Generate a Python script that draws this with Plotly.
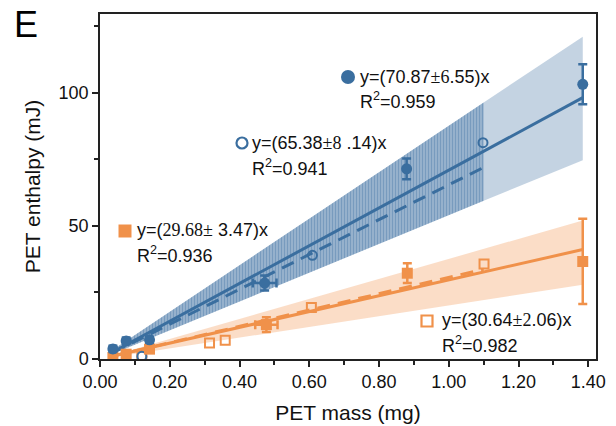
import plotly.graph_objects as go

# ---------------- data ----------------
blue_fill_x = [0.037, 0.075, 0.142, 0.472, 0.879, 1.384]
blue_fill_y = [3.8, 6.8, 7.2, 28.5, 71.4, 103.1]
blue_fill_yerr = [1.2, 1.2, 1.0, 2.8, 3.9, 7.5]
blue_fill_xerr = [0.006, 0.008, 0.008, 0.034, 0.004, 0.004]

blue_open_x = [0.12, 0.609, 1.098]
blue_open_y = [1.0, 38.9, 81.2]

orange_fill_x = [0.037, 0.075, 0.142, 0.477, 0.881, 1.384]
orange_fill_y = [0.6, 1.8, 3.7, 12.9, 32.2, 36.6]
orange_fill_yerr = [0.8, 1.0, 1.0, 2.8, 3.7, 16.0]
orange_fill_xerr = [0.006, 0.008, 0.008, 0.032, 0.004, 0.004]

orange_open_x = [0.12, 0.314, 0.359, 0.606, 1.101]
orange_open_y = [1.2, 6.0, 7.0, 19.3, 35.7]

# fitted slopes (y = k x)
blue_fill_slope = 70.87
blue_open_slope = 65.38
orange_fill_slope = 29.68
orange_open_slope = 30.64
blue_fill_fit_x = [0.037, 1.384]
blue_open_fit_x = [0.037, 1.10]
orange_fill_fit_x = [0.037, 1.384]
orange_open_fit_x = [0.037, 1.10]

# confidence bands
blue_band_x = [0.037, 1.10, 1.384]
blue_band_hi = [3.5, 96.3, 121.0]
blue_band_lo = [2.0, 59.4, 74.6]
blue_open_band_x = [0.037, 1.10]
blue_open_band_hi = [3.5, 96.3]
blue_open_band_lo = [2.0, 59.4]
orange_band_x = [0.037, 1.384]
orange_band_hi = [1.4, 52.0]
orange_band_lo = [0.7, 27.9]

x_ticks = [0.0, 0.2, 0.4, 0.6, 0.8, 1.0, 1.2, 1.4]
x_ticklabels = ["0.00", "0.20", "0.40", "0.60", "0.80", "1.00", "1.20", "1.40"]
y_ticks = [0, 50, 100]
y_ticklabels = ["0", "50", "100"]

# ---------------- style ----------------
BLUE = "#3a6e9f"
ORANGE = "#f0914a"
SANS = "Arial, Liberation Sans, sans-serif"

W, H = 616, 426
ML, MR, MT, MB = 100, 20, 14, 67
PW, PH = W - ML - MR, H - MT - MB


def px(xp):
    return (xp - ML) / PW


def py(yp):
    return (H - MB - yp) / PH


def band(xs, lo, hi):
    return xs + xs[::-1], hi + lo[::-1]


fig = go.Figure()

bx, by = band(orange_band_x, orange_band_lo, orange_band_hi)
fig.add_trace(go.Scatter(x=bx, y=by, fill="toself", mode="none",
                         fillcolor="rgba(244,150,80,0.32)", hoverinfo="skip"))
bx, by = band(blue_band_x, blue_band_lo, blue_band_hi)
fig.add_trace(go.Scatter(x=bx, y=by, fill="toself", mode="none",
                         fillcolor="rgba(58,110,159,0.30)", hoverinfo="skip"))
bx, by = band(blue_open_band_x, blue_open_band_lo, blue_open_band_hi)
fig.add_trace(go.Scatter(x=bx, y=by, fill="toself", mode="none",
                         fillcolor="rgba(58,110,159,0.35)",
                         fillpattern=dict(shape="|", fgcolor="rgba(40,95,150,0.55)",
                                          bgcolor="rgba(58,110,159,0.33)",
                                          size=3, solidity=0.35),
                         hoverinfo="skip"))

# fit lines
for xs, k, color, dash in [
    (orange_fill_fit_x, orange_fill_slope, ORANGE, "solid"),
    (orange_open_fit_x, orange_open_slope, ORANGE, "13px,8px"),
    (blue_fill_fit_x, blue_fill_slope, BLUE, "solid"),
    (blue_open_fit_x, blue_open_slope, BLUE, "13px,8px"),
]:
    fig.add_trace(go.Scatter(x=xs, y=[k * v for v in xs], mode="lines",
                             line=dict(color=color, width=3, dash=dash),
                             hoverinfo="skip"))

# data points
fig.add_trace(go.Scatter(x=orange_open_x, y=orange_open_y, mode="markers",
                         marker=dict(symbol="square-open", size=9, color=ORANGE,
                                     line=dict(width=2, color=ORANGE))))
fig.add_trace(go.Scatter(x=blue_open_x, y=blue_open_y, mode="markers",
                         marker=dict(symbol="circle-open", size=9, color=BLUE,
                                     line=dict(width=2, color=BLUE))))
fig.add_trace(go.Scatter(x=orange_fill_x, y=orange_fill_y, mode="markers",
                         marker=dict(symbol="square", size=11, color=ORANGE),
                         error_y=dict(type="data", array=orange_fill_yerr,
                                      color=ORANGE, thickness=2.5, width=4.5),
                         error_x=dict(type="data", array=orange_fill_xerr,
                                      color=ORANGE, thickness=2.5, width=4.5)))
fig.add_trace(go.Scatter(x=blue_fill_x, y=blue_fill_y, mode="markers",
                         marker=dict(symbol="circle", size=11, color=BLUE),
                         error_y=dict(type="data", array=blue_fill_yerr,
                                      color=BLUE, thickness=2.5, width=4.5),
                         error_x=dict(type="data", array=blue_fill_xerr,
                                      color=BLUE, thickness=2.5, width=4.5)))

axis_common = dict(
    showline=True, linecolor="#222", linewidth=1.5, mirror=True,
    ticks="outside", ticklen=6, tickwidth=1.5, tickcolor="#222",
    showgrid=False, zeroline=False, automargin=False,
    tickfont=dict(family=SANS, size=18, color="#111"),
)

fig.update_layout(
    width=W, height=H,
    margin=dict(l=ML, r=MR, t=MT, b=MB),
    paper_bgcolor="white", plot_bgcolor="white",
    showlegend=False,
    font=dict(family=SANS, color="#111"),
    xaxis=dict(range=[0, 1.422], tickvals=x_ticks, ticktext=x_ticklabels,
               minor=dict(dtick=0.1, tick0=0, ticks="outside", ticklen=4,
                          tickwidth=1.5, tickcolor="#222"),
               title=dict(text="PET mass (mg)", font=dict(family=SANS, size=21),
                          standoff=14),
               **axis_common),
    yaxis=dict(range=[0, 129.5], tickvals=y_ticks, ticktext=y_ticklabels,
               minor=dict(dtick=25, tick0=0, ticks="outside", ticklen=4,
                          tickwidth=1.5, tickcolor="#222"),
               title=dict(text="PET enthalpy (mJ)", font=dict(family=SANS, size=21),
                          standoff=12),
               **axis_common),
)

# panel letter
fig.add_annotation(text="E", xref="paper", yref="paper", x=px(12), y=py(24),
                   xanchor="left", yanchor="middle", showarrow=False,
                   font=dict(family=SANS, size=36, color="#000"))


def s(t):
    return f"<span style='font-family:Liberation Serif'>{t}</span>"


labels = [
    (358, 77, "y=(70.87" + s("±6") + ".55)x", 100, "R<sup>2</sup>=0.959"),
    (250, 143, "y=(65.38" + s("±8") + " .14)x", 167, "R<sup>2</sup>=0.941"),
    (135, 230, "y=(" + s("29.68±") + " 3.47)x", 254, "R<sup>2</sup>=0.936"),
    (440, 320, "y=(30.64" + s("±2") + ".06)x", 344, "R<sup>2</sup>=0.982"),
]
for x0, y1, t1, y2, t2 in labels:
    fig.add_annotation(text=t1, xref="paper", yref="paper", x=px(x0), y=py(y1),
                       xanchor="left", yanchor="middle", showarrow=False,
                       font=dict(family=SANS, size=18, color="#111"))
    fig.add_annotation(text=t2, xref="paper", yref="paper", x=px(x0), y=py(y2),
                       xanchor="left", yanchor="middle", showarrow=False,
                       font=dict(family=SANS, size=18, color="#111"))

# legend glyphs (pixel-sized shapes anchored in paper coords)
fig.add_shape(type="circle", xref="paper", yref="paper", xsizemode="pixel", ysizemode="pixel",
              xanchor=px(348), yanchor=py(77), x0=-7, x1=7, y0=-7, y1=7,
              fillcolor=BLUE, line=dict(width=0))
fig.add_shape(type="circle", xref="paper", yref="paper", xsizemode="pixel", ysizemode="pixel",
              xanchor=px(242), yanchor=py(143), x0=-5.5, x1=5.5, y0=-5.5, y1=5.5,
              fillcolor="rgba(0,0,0,0)", line=dict(color=BLUE, width=2.2))
fig.add_shape(type="rect", xref="paper", yref="paper", xsizemode="pixel", ysizemode="pixel",
              xanchor=px(125), yanchor=py(231), x0=-6.5, x1=6.5, y0=-6.5, y1=6.5,
              fillcolor=ORANGE, line=dict(width=0))
fig.add_shape(type="rect", xref="paper", yref="paper", xsizemode="pixel", ysizemode="pixel",
              xanchor=px(427), yanchor=py(321), x0=-5.5, x1=5.5, y0=-5.5, y1=5.5,
              fillcolor="rgba(0,0,0,0)", line=dict(color=ORANGE, width=2.2))

fig.write_html("out.html")
